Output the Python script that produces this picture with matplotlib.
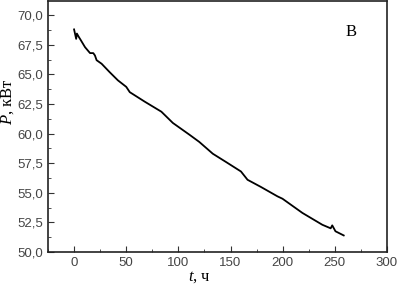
import matplotlib
matplotlib.use("Agg")
import matplotlib.pyplot as plt
from matplotlib.ticker import MultipleLocator, FuncFormatter

plt.rcParams['font.family'] = ['Liberation Sans', 'DejaVu Sans']
plt.rcParams['mathtext.fontset'] = 'custom'
plt.rcParams['mathtext.it'] = 'Liberation Serif:italic'
plt.rcParams['mathtext.rm'] = 'Liberation Serif'

# время, ч и мощность, кВт
t = [0, 2, 2.7, 4.3, 6.4, 10.5, 15.3, 18.4, 20, 21.6, 26.4, 34, 42, 50,
     53.4, 67.7, 83.7, 94.7, 110.7, 120, 133, 145.7, 160, 166.3, 179,
     187, 195, 199.8, 218.9, 238, 246, 247.5, 250.6, 258.5]
P = [68.8, 68.0, 68.45, 68.2, 67.9, 67.3, 66.8, 66.8, 66.6, 66.2, 65.9,
     65.2, 64.5, 63.95, 63.5, 62.7, 61.85, 60.9, 59.9, 59.3, 58.3, 57.6,
     56.8, 56.1, 55.5, 55.1, 54.7, 54.5, 53.3, 52.3, 52.0, 52.25, 51.75, 51.4]

fig = plt.figure(figsize=(3.98, 2.84), dpi=100)
ax = fig.add_axes([48 / 398, 32 / 284, 339 / 398, 251 / 284])
ax.plot(t, P, color='black', lw=1.3)

ax.set_xlim(-25, 300)
ax.set_ylim(50, 71.2)
ax.xaxis.set_major_locator(MultipleLocator(50))
ax.xaxis.set_minor_locator(MultipleLocator(25))
ax.yaxis.set_major_locator(MultipleLocator(2.5))
ax.yaxis.set_minor_locator(MultipleLocator(1.25))
ax.yaxis.set_major_formatter(FuncFormatter(lambda v, p: f"{v:.1f}".replace('.', ',')))
ax.tick_params(which='both', direction='in', labelsize=9.5, labelcolor='#444444',
               color='#333333')
ax.tick_params(which='major', length=4)
ax.tick_params(which='minor', length=2)
for s in ax.spines.values():
    s.set_linewidth(1.2)
    s.set_color('#222222')

ax.set_xlabel("$t$, ч", family='Liberation Serif', fontsize=12)
ax.set_ylabel("$P$, кВт", family='Liberation Serif', fontsize=12)
ax.xaxis.set_label_coords(0.448, -0.066)
ax.yaxis.set_label_coords(-0.094, 0.6)

ax.text(0.895, 0.875, "В", transform=ax.transAxes, family='Liberation Serif',
        fontsize=12, ha='center', va='center')

fig.savefig("out.png", dpi=100)
